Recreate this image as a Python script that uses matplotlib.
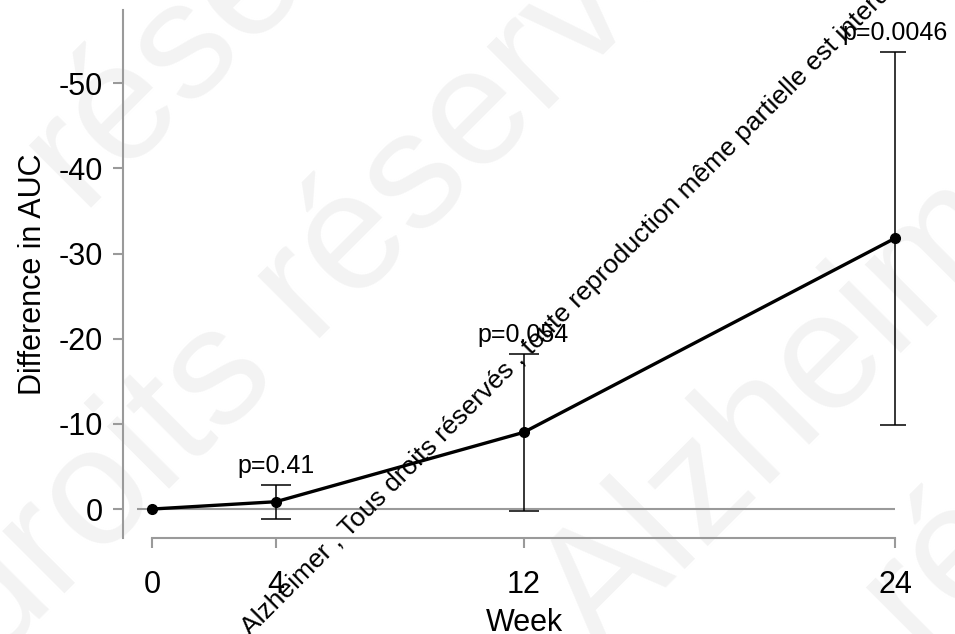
import numpy as np
import matplotlib.pyplot as plt
import matplotlib.transforms as mtransforms

plt.rcParams['font.family'] = ['Liberation Sans', 'DejaVu Sans']
plt.rcParams['axes.unicode_minus'] = False

# data (axis shows negative differences going up)
weeks = np.array([0, 4, 12, 24])
auc_diff = np.array([0.0, -0.86, -9.0, -31.8])
auc_err = np.array([0.0, 2.0, 9.2, 21.9])
p_labels = ['', 'p=0.41', 'p=0.054', 'p=0.0046']

ytick_vals = [0, -10, -20, -30, -40, -50]
ytick_labels = ['0', '-10', '-20', '-30', '-40', '-50']

gray = '#9a9a9a'
W, H = 955, 634

fig = plt.figure(figsize=(9.55, 6.34), dpi=100)

# faint background watermark (drawn behind the axes)
faint = [('droits réservés', 378, 280), ('Alzheimer', 861, 393),
         ('réservés', 306, -18), ('réservés', 1143, 424)]
for txt, px, py in faint:
    fig.text(px / W, 1 - py / H, txt, fontsize=120, color='#f3f3f3',
             rotation=45, rotation_mode='anchor', ha='center', va='baseline',
             zorder=-1)

ax = fig.add_axes([123 / W, 96 / H, 782 / W, 528 / H])
ax.set_facecolor('none')

ax.hlines(0, weeks[0] - 0.5, weeks[-1], color=gray, lw=1.5, zorder=1)

m = auc_err > 0
ax.errorbar(weeks[m], auc_diff[m], yerr=auc_err[m], fmt='none', ecolor='black',
            elinewidth=1.1, capsize=10.8, capthick=1.1, zorder=3)
ax.plot(weeks, auc_diff, color='black', lw=2.4, marker='o', ms=7, zorder=4)

for w, v, e, lab in zip(weeks, auc_diff, auc_err, p_labels):
    if lab:
        ax.annotate(lab, (w, v - e), xytext=(0, 8.5), textcoords='offset points',
                    ha='center', va='baseline', fontsize=18)

ax.set_xlim(-0.937, 24.32)
ax.set_ylim(3.4, -58.6)
ax.set_xticks(weeks)
ax.set_xticklabels([str(w) for w in weeks])
ax.set_yticks(ytick_vals)
ax.set_yticklabels(ytick_labels)

for s in ['top', 'right']:
    ax.spines[s].set_visible(False)
for s in ['left', 'bottom']:
    ax.spines[s].set_color(gray)
    ax.spines[s].set_linewidth(1.5)
ax.spines['bottom'].set_bounds(weeks[0], weeks[-1])

ax.tick_params(axis='both', direction='out', length=7.2, width=1.5, color=gray,
               labelsize=22)
ax.tick_params(axis='y', pad=7.2)
ax.tick_params(axis='x', pad=15.8)

ax.set_xlabel('Week', fontsize=22, va='baseline')
ax.xaxis.set_label_coords(0.5128, -0.176)
ax.set_ylabel('Difference in AUC', fontsize=22, va='center')
ax.yaxis.set_label_coords(-0.1157, 0.5)

# diagonal copyright line
ang = 45
ax0, ay0 = 250, 636
fs = 19
fig.text(ax0 / W, 1 - ay0 / H,
         'Alzheimer , Tous droits réservés , toute reproduction même partielle est interdite',
         fontsize=fs, rotation=ang, rotation_mode='anchor', ha='left', va='baseline',
         zorder=5)
sp = 0.278 * fs * 100 / 72
off = mtransforms.offset_copy(fig.transFigure, fig=fig,
                              x=-sp * np.cos(np.radians(ang)),
                              y=-sp * np.sin(np.radians(ang)), units='dots')
fig.text(ax0 / W, 1 - ay0 / H, '© Fondation Vaincre', transform=off,
         fontsize=fs, rotation=ang, rotation_mode='anchor', ha='right', va='baseline',
         zorder=5)

fig.savefig('out.png', dpi=100)
